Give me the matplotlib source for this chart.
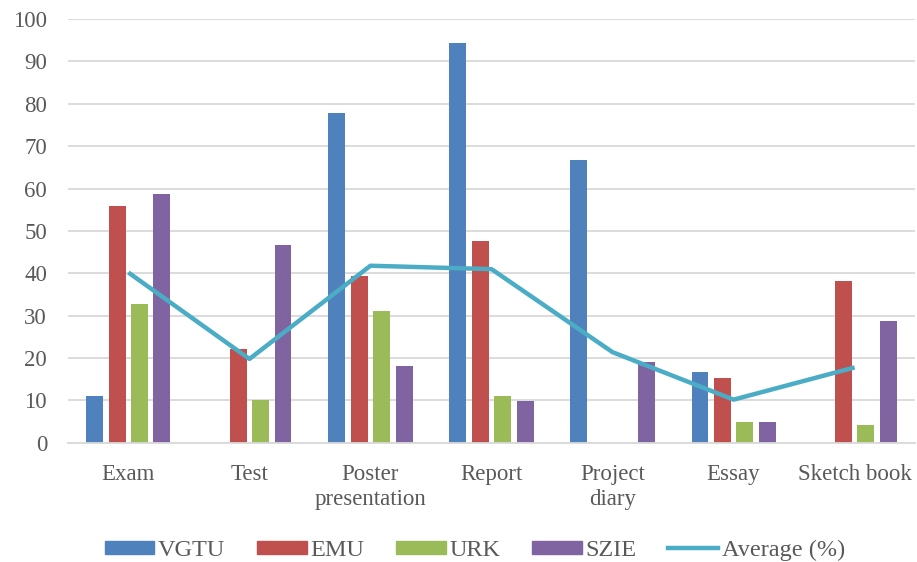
import numpy as np
import matplotlib
matplotlib.use('Agg')
import matplotlib.pyplot as plt
from matplotlib.patches import Patch
from matplotlib.lines import Line2D

categories = ['Exam', 'Test', 'Poster\npresentation', 'Report', 'Project\ndiary', 'Essay', 'Sketch book']
vgtu = [11.0, 0, 77.8, 94.3, 66.7, 16.7, 0]
emu = [55.9, 22.2, 39.4, 47.6, 0, 15.2, 38.3]
urk = [32.8, 10.2, 31.1, 11.0, 0, 5.0, 4.2]
szie = [58.7, 46.7, 18.2, 9.8, 19.1, 5.0, 28.7]
average = [40.2, 19.8, 41.8, 41.0, 21.4, 10.2, 17.8]

series = [('VGTU', vgtu, '#4F81BD'), ('EMU', emu, '#C0504D'),
          ('URK', urk, '#9BBB59'), ('SZIE', szie, '#8064A2')]
line_color = '#4BACC6'
text_color = '#595959'

plt.rcParams['font.family'] = ['Liberation Serif', 'DejaVu Serif']

fig = plt.figure(figsize=(9.17, 5.62), dpi=100)
ax = fig.add_axes([0.074, 0.212, 0.924, 0.754])

x = np.arange(len(categories))
width = 0.14
step = 0.185
for i, (name, vals, col) in enumerate(series):
    ax.bar(x + (i - 1.5) * step, vals, width, color=col, zorder=2)

# average line on top of the bars
ax.plot(x, average, color=line_color, linewidth=3.2, zorder=3, solid_capstyle='butt')

ax.set_ylim(0, 100)
ax.set_xlim(-0.5, len(categories) - 0.5)
ax.set_yticks(range(0, 101, 10))
ax.yaxis.grid(True, color='#D9D9D9', linewidth=1.3, zorder=0)
ax.set_axisbelow(True)
for s in ['left', 'right', 'top']:
    ax.spines[s].set_visible(False)
ax.spines['bottom'].set_color('#D9D9D9')
ax.spines['bottom'].set_linewidth(1.3)
ax.tick_params(axis='both', length=0, colors=text_color, labelsize=16.5)
ax.tick_params(axis='x', pad=15)
ax.tick_params(axis='y', pad=15)
ax.set_xticks(x)
ax.set_xticklabels(categories, linespacing=1.25)

handles = [Patch(color=col, label=name) for name, _, col in series]
handles.append(Line2D([0], [0], color=line_color, linewidth=3.2, label='Average (%)'))
leg = fig.legend(handles=handles, loc='center left', bbox_to_anchor=(0.114, 0.021), ncol=5,
                 frameon=False, fontsize=17.5, handlelength=2.05, handleheight=0.45,
                 handletextpad=0.15, columnspacing=1.3, borderpad=0, borderaxespad=0)
for t in leg.get_texts():
    t.set_color(text_color)

fig.savefig('out.png', dpi=100)
